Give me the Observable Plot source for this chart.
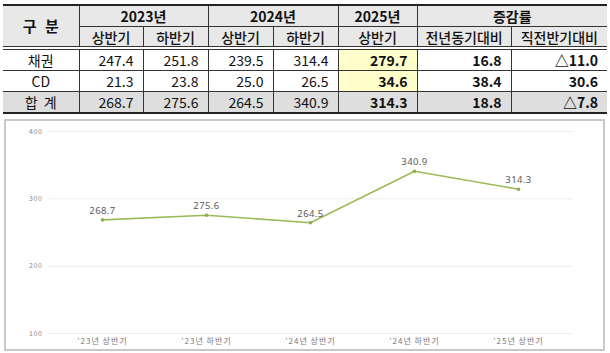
<!DOCTYPE html>
<html><head><meta charset="utf-8">
<script src="https://cdn.jsdelivr.net/npm/d3@7"></script>
<script src="https://cdn.jsdelivr.net/npm/@observablehq/plot@0.6"></script>
<style>
body{margin:0;width:610px;height:353px;background:#fff;position:relative;overflow:hidden;font-family:"Noto Sans CJK KR","Noto Sans",sans-serif}
table{position:absolute;left:3px;top:4px;border-collapse:collapse;table-layout:fixed;width:604px;font-size:14px;color:#111;border-top:2px solid #222;border-bottom:2px solid #222}
td,th{padding:0;height:20px;line-height:18px;border:1px solid #333;white-space:nowrap;overflow:hidden}
th{background:#e8e8e8;text-align:center}
th.r1{font-weight:700}
th.r2{font-weight:500;border-bottom:4px double #333;height:19px}
td{text-align:right;padding-right:9px}
td.lab{text-align:center;padding-right:0}
tr.tot td{background:#dedede}
td.hl{background:#ffffcc}
td.b{font-weight:700}
.nl{border-left:none!important}
.nr{border-right:none!important}
#chart{position:absolute;left:4px;top:119px;width:597px;height:228px;border:2px solid #c8c8c8}
#chart svg{display:block}
#chart g[aria-label="x-axis tick label"] text{letter-spacing:1px}
#chart g[aria-label="y-axis tick label"] text{letter-spacing:0.6px}
#chart g[aria-label="text"] text{letter-spacing:0.4px}
</style>
</head><body>
<table id="tbl"></table>
<div id="chart"></div>
<script>
// ---- data ----
const rowLabel = "구 분";
const years = ["2023년", "2024년", "2025년", "증감률"];
const yearSpans = [2, 2, 1, 2];
const subHeaders = ["상반기", "하반기", "상반기", "하반기", "상반기", "전년동기대비", "직전반기대비"];
const categories = ["채권", "CD", "합 계"];
const bondValues = ["247.4", "251.8", "239.5", "314.4", "279.7", "16.8", "△11.0"];
const cdValues = ["21.3", "23.8", "25.0", "26.5", "34.6", "38.4", "30.6"];
const totalValues = ["268.7", "275.6", "264.5", "340.9", "314.3", "18.8", "△7.8"];
const periods = ["'23년 상반기", "'23년 하반기", "'24년 상반기", "'24년 하반기", "'25년 상반기"];
const totals = [268.7, 275.6, 264.5, 340.9, 314.3];
const yTicks = [100, 200, 300, 400];

// ---- table ----
const colW = [76, 64, 65, 65, 65, 79, 94, 96];
const tbl = document.getElementById("tbl");
let html = "<colgroup>" + colW.map(w => `<col style="width:${w}px">`).join("") + "</colgroup>";
html += `<tr><th class="r1 nl" rowspan="2" style="font-size:15px;word-spacing:5px;border-bottom:4px double #333">${rowLabel}</th>`;
years.forEach((y, i) => {
  html += `<th class="r1${i === years.length - 1 ? " nr" : ""}" colspan="${yearSpans[i]}">${y}</th>`;
});
html += "</tr><tr>";
subHeaders.forEach((s, i) => {
  html += `<th class="r2${i === subHeaders.length - 1 ? " nr" : ""}">${s}</th>`;
});
html += "</tr>";
const rows = [bondValues, cdValues, totalValues];
rows.forEach((vals, r) => {
  const tot = r === rows.length - 1;
  html += `<tr class="${tot ? "tot" : ""}"><td class="lab nl"${tot ? ' style="word-spacing:3px"' : ""}>${categories[r]}</td>`;
  vals.forEach((v, i) => {
    let cls = [];
    if (i >= 4) cls.push("b");
    if (i === 4 && !tot) cls.push("hl");
    if (i === vals.length - 1) cls.push("nr");
    html += `<td class="${cls.join(" ")}">${v}</td>`;
  });
  html += "</tr>";
});
tbl.innerHTML = html;

// ---- chart ----
const data = periods.map((p, i) => ({period: p, value: totals[i]}));
const chart = Plot.plot({
  width: 597,
  height: 228,
  marginTop: 10,
  marginBottom: 16,
  marginLeft: 42,
  marginRight: 31,
  style: {fontFamily: "'Noto Sans CJK KR','Noto Sans',sans-serif", background: "#fff"},
  x: {type: "point", domain: periods, padding: 0.5, label: null},
  y: {domain: [100, 400], ticks: yTicks, label: null},
  marks: [
    Plot.ruleY(yTicks, {stroke: "#ececec", strokeWidth: 1}),
    Plot.axisY({ticks: yTicks, tickSize: 0, tickPadding: 6, fontSize: 7, fill: "#888", label: null}),
    Plot.axisX({tickSize: 0, tickPadding: 5, fontSize: 8, fill: "#777", label: null}),
    Plot.line(data, {x: "period", y: "value", stroke: "#9bbb59", strokeWidth: 1.6}),
    Plot.dot(data, {x: "period", y: "value", r: 1.8, fill: "#8db04a"}),
    Plot.text(data, {x: "period", y: "value", text: d => d.value.toFixed(1), dy: -9, fontSize: 9.5, fill: "#595959", fontFamily: "'Noto Sans',sans-serif"})
  ]
});
document.getElementById("chart").appendChild(chart);
</script>
</body></html>
